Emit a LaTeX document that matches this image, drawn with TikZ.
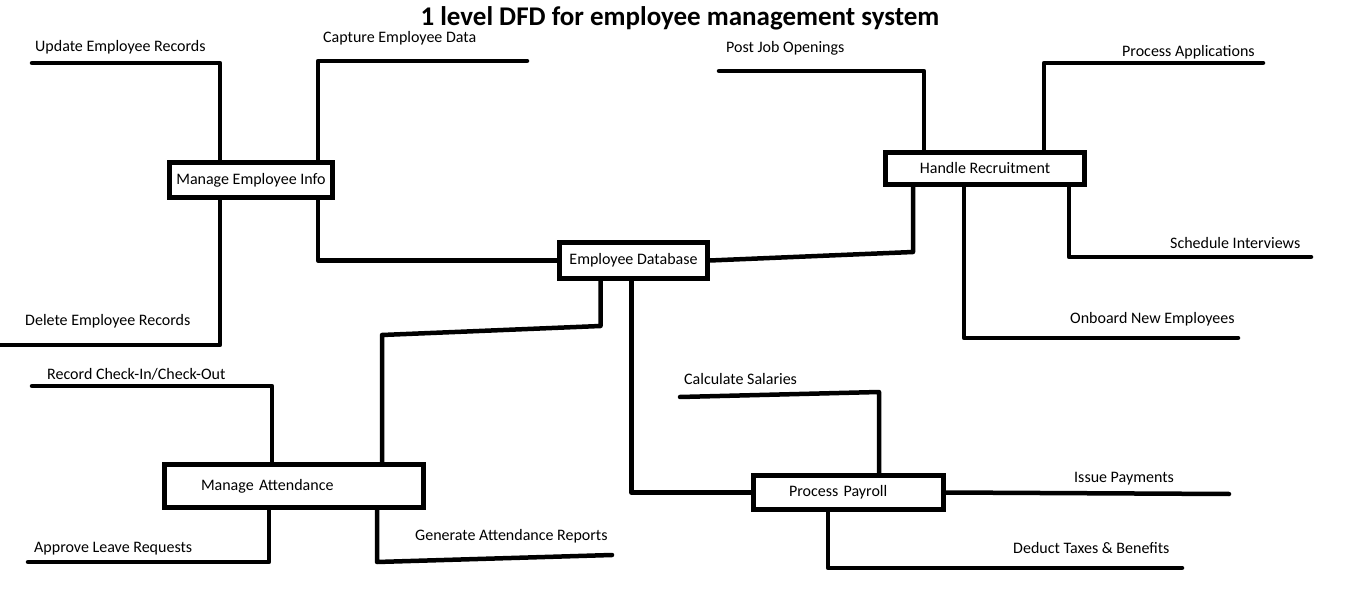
\documentclass[tikz,border=0pt]{standalone}
\usepackage{fontspec}
\setmainfont{Carlito}
\usetikzlibrary{positioning}
\tikzstyle{proc} = [rectangle, draw, line width=4.5pt, inner sep=0pt,
    font=\fontsize{16}{18}\selectfont]
\tikzstyle{flow} = [line width=4.5pt, line cap=round, line join=round]
\tikzstyle{lbl} = [anchor=west, inner sep=0pt, font=\fontsize{16}{18}\selectfont]

\begin{document}
\begin{tikzpicture}[x=1pt,y=-1pt]
  \useasboundingbox (0,0) rectangle (1360,601);

  \node[font=\bfseries\fontsize{27}{31}\selectfont] (title) at (680,18)
      {1 level DFD for employee management system};

  % processes
  \node[proc, minimum width=163pt, minimum height=35pt] (mei) at (251,180) {Manage Employee Info};
  \node[proc, minimum width=148pt, minimum height=36pt] (db)  at (633.5,260.5) {Employee Database};
  \node[proc, minimum width=199pt, minimum height=32pt] (hr)  at (985,168.5) {Handle Recruitment};
  \node[proc, minimum width=259pt, minimum height=43pt, text width=186pt, align=left] (ma) at (294,486) {Manage Attendance};
  \node[proc, minimum width=190pt, minimum height=34pt, text width=119pt, align=left] (pp) at (848.5,492.5) {Process Payroll};

  % flow labels
  \node[lbl] (uerl) at (35,47)   {Update Employee Records};
  \node[lbl] (cedl) at (323,38)  {Capture Employee Data};
  \node[lbl] (derl) at (25,321)  {Delete Employee Records};
  \node[lbl] (pojl) at (726,48)  {Post Job Openings};
  \node[lbl] (pal)  at (1122,52) {Process Applications};
  \node[lbl] (sil)  at (1170,243) {Schedule Interviews};
  \node[lbl] (onel) at (1070,319) {Onboard New Employees};
  \node[lbl] (rccl) at (47,374)  {Record Check-In/Check-Out};
  \node[lbl] (alrl) at (34,549)  {Approve Leave Requests};
  \node[lbl] (garl) at (415,536) {Generate Attendance Reports};
  \node[lbl] (csl)  at (684,379) {Calculate Salaries};
  \node[lbl] (ipl)  at (1074,479) {Issue Payments};
  \node[lbl] (dtbl) at (1013,548) {Deduct Taxes \& Benefits};

  % free ends
  \coordinate (uer) at (32,63);
  \coordinate (ced) at (527,61);
  \coordinate (der) at (0,345);
  \coordinate (poj) at (719,71);
  \coordinate (pa)  at (1263,63);
  \coordinate (si)  at (1311,257);
  \coordinate (one) at (1238,338);
  \coordinate (rcc) at (32,386);
  \coordinate (alr) at (28,562);
  \coordinate (gar) at (612,555);
  \coordinate (cs)  at (680,397);
  \coordinate (ip)  at (1229,494);
  \coordinate (dtb) at (1182,568);
  % bends
  \coordinate (hrj) at (913,252);
  \coordinate (dbj) at (600.5,326);
  \coordinate (maj) at (382,335);
  \coordinate (garj) at (377,562);
  \coordinate (csj) at (879,392);

  % manage employee info
  \draw[flow] (uer) -| ([xshift=-31pt]mei.north);
  \draw[flow] (ced) -| ([xshift=67pt]mei.north);
  \draw[flow] ([xshift=-31pt]mei.south) |- (der);
  \draw[flow] ([xshift=67pt]mei.south) |- (db.west);

  % handle recruitment
  \draw[flow] (db.east) -- (hrj) -- ([xshift=-72pt]hr.south);
  \draw[flow] (poj) -| ([xshift=-61pt]hr.north);
  \draw[flow] (pa) -| ([xshift=59pt]hr.north);
  \draw[flow] ([xshift=84pt]hr.south) |- (si);
  \draw[flow] ([xshift=-21pt]hr.south) |- (one);

  % manage attendance
  \draw[flow] ([xshift=-33pt]db.south) -- (dbj) -- (maj) -- ([xshift=88pt]ma.north);
  \draw[flow] (rcc) -| ([xshift=-22pt]ma.north);
  \draw[flow] ([xshift=-25pt]ma.south) |- (alr);
  \draw[flow] ([xshift=83pt]ma.south) -- (garj) -- (gar);

  % process payroll
  \draw[flow] ([xshift=-2pt]db.south) |- (pp.west);
  \draw[flow] (cs) -- (csj) -- ([xshift=30.5pt]pp.north);
  \draw[flow] (pp.east) -- (ip);
  \draw[flow] ([xshift=-20.5pt]pp.south) |- (dtb);
\end{tikzpicture}
\end{document}
